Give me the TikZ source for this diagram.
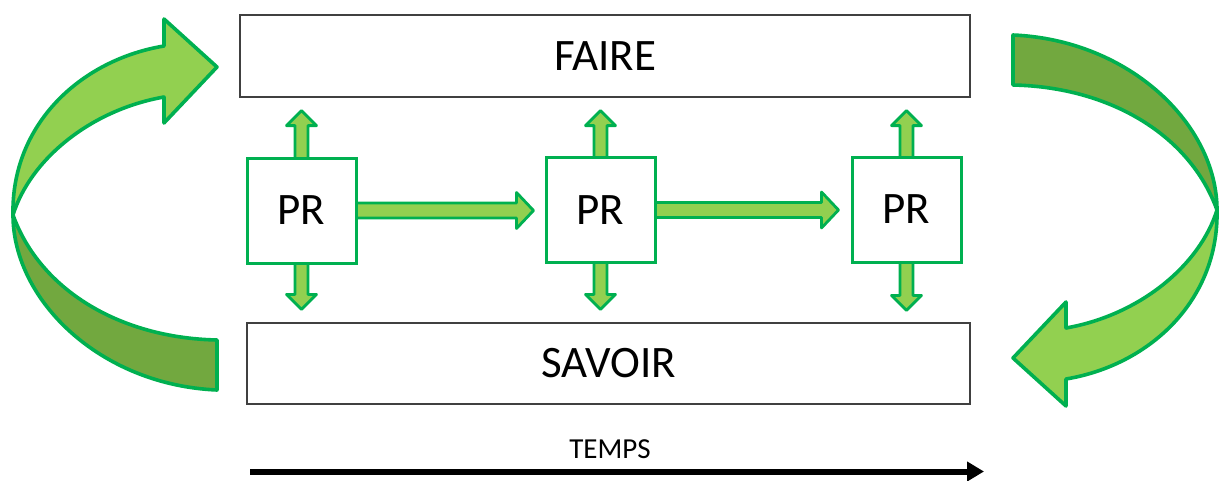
\documentclass[tikz,border=0pt]{standalone}
\usepackage{fontspec}
\setmainfont{Carlito}
\usetikzlibrary{arrows.meta,calc,backgrounds}
\definecolor{lgreen}{HTML}{92D050}
\definecolor{dgreen}{HTML}{72A83F}
\definecolor{bgreen}{HTML}{00B050}
\definecolor{boxgray}{HTML}{404040}
% horizontal block arrow: #1 start, #2 tip
\newcommand\HArr[2]{\draw[blk] let \p1=(#1), \p2=(#2) in
 (\x1,{\y1+7.5pt}) -- ({\x2-17pt},{\y1+7.5pt}) -- ({\x2-17pt},{\y1+18pt}) -- (\x2,\y1)
 -- ({\x2-17pt},{\y1-18pt}) -- ({\x2-17pt},{\y1-7.5pt}) -- (\x1,{\y1-7.5pt}) -- cycle;}
% vertical double block arrow: #1 top tip, #2 bottom tip
\newcommand\VArr[2]{\draw[blk] let \p1=(#1), \p2=(#2) in
 (\x1,\y1) -- ({\x1+15pt},{\y1-15pt}) -- ({\x1+6.5pt},{\y1-15pt}) -- ({\x1+6.5pt},{\y2+15pt})
 -- ({\x1+15pt},{\y2+15pt}) -- (\x1,\y2) -- ({\x1-15pt},{\y2+15pt}) -- ({\x1-6.5pt},{\y2+15pt})
 -- ({\x1-6.5pt},{\y1-15pt}) -- ({\x1-15pt},{\y1-15pt}) -- cycle;}
\begin{document}
\begin{tikzpicture}[x=1pt,y=-1pt,
  bigbox/.style={draw=boxgray,line width=1.2pt,fill=white,inner sep=0pt,font=\fontsize{45}{50}\selectfont},
  prbox/.style={draw=bgreen,line width=3pt,fill=white,inner sep=0pt,minimum width=109pt,minimum height=105pt,font=\fontsize{45}{50}\selectfont},
  blk/.style={draw=bgreen,fill=lgreen,line width=2.8pt,line join=round},
  band/.style={draw=bgreen,line width=3.6pt,line join=round},
  timearrow/.style={line width=6pt,-{Triangle[length=17pt,width=19pt]}}]
\useasboundingbox (0,0) rectangle (1219,480);

% curved arrows
\path[band,fill=dgreen] (13,215) .. controls (13,300) and (100,385) .. (217,390) -- (217,340) .. controls (120,338) and (40,290) .. (13,215) -- cycle;
\path[band,fill=lgreen] (13,215) .. controls (11,125) and (80,60) .. (164,46) -- (164,19) -- (217,67) -- (164,123) -- (164,97) .. controls (90,110) and (30,160) .. (13,215) -- cycle;
\begin{scope}[rotate around={180:(615,212.5)}]
\path[band,fill=dgreen] (13,215) .. controls (13,300) and (100,385) .. (217,390) -- (217,340) .. controls (120,338) and (40,290) .. (13,215) -- cycle;
\path[band,fill=lgreen] (13,215) .. controls (11,125) and (80,60) .. (164,46) -- (164,19) -- (217,67) -- (164,123) -- (164,97) .. controls (90,110) and (30,160) .. (13,215) -- cycle;
\end{scope}

% main boxes
\node[bigbox,minimum width=730pt,minimum height=82pt] (faire) at (605,56) {FAIRE};
\node[bigbox,minimum width=723pt,minimum height=81pt] (savoir) at (608.5,363.5) {SAVOIR};

\node[prbox] (pr1) at (301.5,210.5) {PR};
\node[prbox] (pr2) at (600.5,210) {PR};
\node[prbox] (pr3) at (906.5,209.5) {PR};

\begin{scope}[on background layer]
\VArr{$(pr1.center |- faire.south)+(0,13)$}{$(pr1.center |- savoir.north)+(0,-13)$}
\VArr{$(pr2.center |- faire.south)+(0,13)$}{$(pr2.center |- savoir.north)+(0,-13)$}
\VArr{$(pr3.center |- faire.south)+(0,13)$}{$(pr3.center |- savoir.north)+(0,-12)$}
\HArr{pr1.center}{$(pr2.west)+(-11,-1)$}
\HArr{pr2.center}{$(pr3.west)+(-12,0)$}
\end{scope}

% time axis
\node[font=\fontsize{29}{34}\selectfont] (temps) at (610,449) {TEMPS};
\coordinate (t0) at (250,471.5);
\coordinate (t1) at (984,471.5);
\draw[timearrow] (t0) -- (t1);
\end{tikzpicture}
\end{document}
